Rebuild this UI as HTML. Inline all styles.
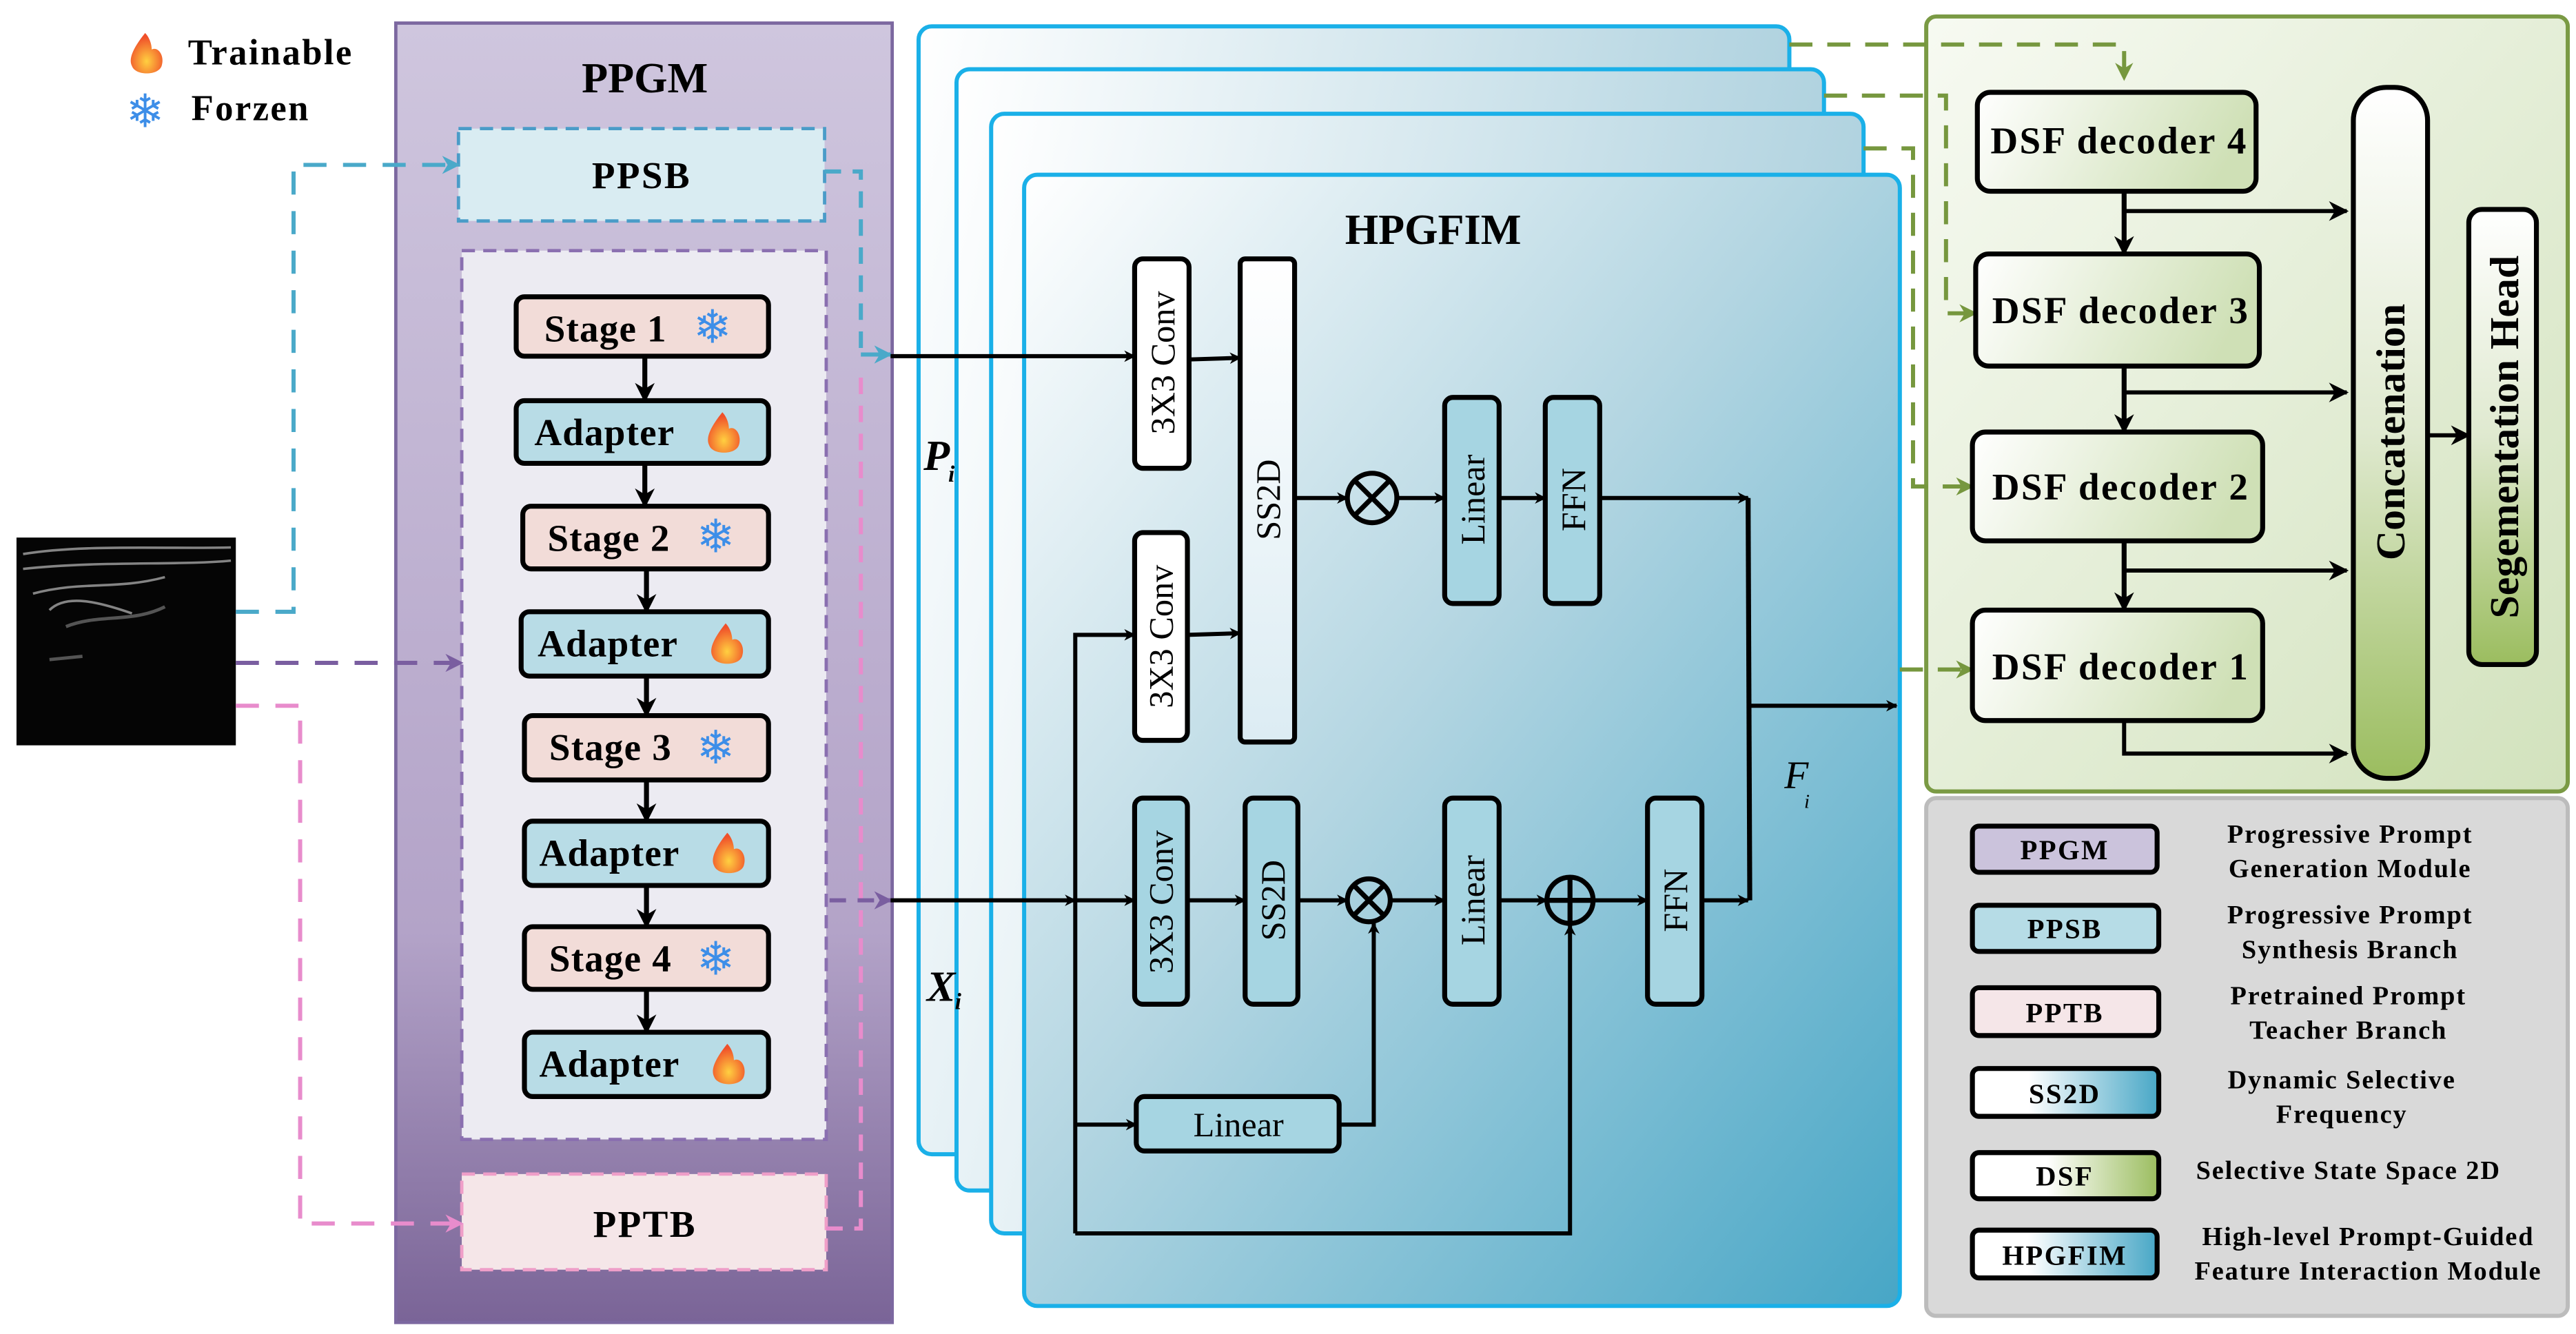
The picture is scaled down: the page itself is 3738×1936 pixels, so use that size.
<!DOCTYPE html>
<html><head><meta charset="utf-8"><style>
html,body{margin:0;padding:0;background:#fff}
svg{display:block}
</style></head><body>
<svg width="3738" height="1936" viewBox="0 0 1562 809" xmlns="http://www.w3.org/2000/svg" font-family="'Liberation Serif','DejaVu Serif',serif">
<defs>
<linearGradient id="gP" x1="0" y1="0" x2="0" y2="1"><stop offset="0" stop-color="#cfc6de"/><stop offset="0.7" stop-color="#b3a3c8"/><stop offset="1" stop-color="#7a6497"/></linearGradient>
<linearGradient id="gB" x1="0" y1="0" x2="1" y2="1"><stop offset="0" stop-color="#ffffff"/><stop offset="0.45" stop-color="#b4d6e2"/><stop offset="1" stop-color="#47a6c6"/></linearGradient>
<linearGradient id="gB2" x1="0" y1="0" x2="1" y2="0.3"><stop offset="0" stop-color="#ffffff"/><stop offset="1" stop-color="#aacfdd"/></linearGradient>
<linearGradient id="gG" x1="0" y1="0" x2="1" y2="1"><stop offset="0" stop-color="#f7faf2"/><stop offset="1" stop-color="#d2e2bd"/></linearGradient>
<linearGradient id="gD" x1="0" y1="0" x2="1" y2="0.2"><stop offset="0" stop-color="#ffffff"/><stop offset="1" stop-color="#cfe0b6"/></linearGradient>
<linearGradient id="gC" x1="0" y1="0" x2="0" y2="1"><stop offset="0" stop-color="#ffffff"/><stop offset="0.5" stop-color="#dfe9cf"/><stop offset="1" stop-color="#9bbd5f"/></linearGradient>
<linearGradient id="gS" x1="0" y1="0" x2="1" y2="0"><stop offset="0" stop-color="#ffffff"/><stop offset="0.3" stop-color="#ffffff"/><stop offset="1" stop-color="#48a7c6"/></linearGradient>
<linearGradient id="gDS" x1="0" y1="0" x2="1" y2="0"><stop offset="0" stop-color="#ffffff"/><stop offset="0.4" stop-color="#ffffff"/><stop offset="1" stop-color="#9bbd5f"/></linearGradient>
<linearGradient id="gSS" x1="0" y1="0" x2="0" y2="1"><stop offset="0" stop-color="#ffffff"/><stop offset="1" stop-color="#dcecf3"/></linearGradient>
<radialGradient id="gF" cx="0.5" cy="0.7" r="0.6"><stop offset="0" stop-color="#ffd040"/><stop offset="1" stop-color="#f0502a"/></radialGradient>
<marker id="a" viewBox="0 0 10 10" refX="9" refY="5" markerWidth="7" markerHeight="7" orient="auto" markerUnits="userSpaceOnUse"><path d="M0,0 L10,5 L0,10 L3,5z" fill="#000"/></marker>
<marker id="aL" viewBox="0 0 10 10" refX="9" refY="5" markerWidth="14" markerHeight="12" orient="auto" markerUnits="userSpaceOnUse"><path d="M0,0 L10,5 L0,10 L3,5z" fill="#000"/></marker>
<marker id="aC" viewBox="0 0 10 10" refX="9" refY="5" markerWidth="13" markerHeight="11" orient="auto" markerUnits="userSpaceOnUse"><path d="M0,0 L10,5 L0,10 L3,5z" fill="#4aa9c9"/></marker>
<marker id="aV" viewBox="0 0 10 10" refX="9" refY="5" markerWidth="13" markerHeight="11" orient="auto" markerUnits="userSpaceOnUse"><path d="M0,0 L10,5 L0,10 L3,5z" fill="#7a5ea0"/></marker>
<marker id="aK" viewBox="0 0 10 10" refX="9" refY="5" markerWidth="13" markerHeight="11" orient="auto" markerUnits="userSpaceOnUse"><path d="M0,0 L10,5 L0,10 L3,5z" fill="#e88ccc"/></marker>
<marker id="aG" viewBox="0 0 10 10" refX="9" refY="5" markerWidth="13" markerHeight="11" orient="auto" markerUnits="userSpaceOnUse"><path d="M0,0 L10,5 L0,10 L3,5z" fill="#76973e"/></marker>
</defs>

<!-- legend top -->
<path d="M88,20 C80,30 78,36 80,40 C82,46 96,46 98,40 C100,34 96,28 92,30 C92,26 90,22 88,20z" fill="url(#gF)"/>
<text x="114" y="39" font-size="22" font-weight="bold" letter-spacing="1">Trainable</text>
<text x="88" y="77" font-size="28" fill="#3d8ee8" text-anchor="middle" font-family="'DejaVu Sans',sans-serif">❄</text>
<text x="116" y="73" font-size="22" font-weight="bold" letter-spacing="1">Forzen</text>

<!-- ultrasound image -->
<rect x="10" y="326" width="133" height="126" fill="#050505"/>
<path d="M14,336 C50,330 100,333 140,332 M14,345 C60,340 110,343 140,340 M20,360 C50,352 70,358 100,350 M30,370 C40,360 60,365 80,372" stroke="#bbb" stroke-width="1.5" fill="none" opacity="0.7"/>
<path d="M40,380 C60,372 80,378 100,368 M30,400 L50,398" stroke="#888" stroke-width="2" fill="none" opacity="0.6"/>

<!-- PPGM -->
<rect x="240" y="14" width="301" height="788" fill="url(#gP)" stroke="#7c68a0" stroke-width="2"/>
<text x="391" y="56" font-size="26" font-weight="bold" text-anchor="middle">PPGM</text>
<rect x="278" y="78" width="222" height="56" fill="#d9ecf2" stroke="#4a9cc8" stroke-width="2" stroke-dasharray="8,5"/>
<text x="389" y="114" font-size="23" font-weight="bold" text-anchor="middle" letter-spacing="1">PPSB</text>
<rect x="280" y="152" width="221" height="539" fill="#ecebf2" stroke="#8a6fb0" stroke-width="2" stroke-dasharray="8,5"/>
<rect x="280" y="712" width="221" height="58" fill="#f5e6e8" stroke="#ef9ec8" stroke-width="2" stroke-dasharray="8,5"/>
<text x="391" y="750" font-size="23" font-weight="bold" text-anchor="middle" letter-spacing="1">PPTB</text>

<g stroke="#000" stroke-width="3">
<rect x="313" y="180" width="153" height="36" rx="5" fill="#f2dcd8"/>
<rect x="313" y="243" width="153" height="38" rx="5" fill="#b8dce6"/>
<rect x="317" y="307" width="149" height="38" rx="5" fill="#f2dcd8"/>
<rect x="316" y="371" width="150" height="39" rx="5" fill="#b8dce6"/>
<rect x="318" y="434" width="148" height="39" rx="5" fill="#f2dcd8"/>
<rect x="318" y="498" width="148" height="39" rx="5" fill="#b8dce6"/>
<rect x="318" y="562" width="148" height="38" rx="5" fill="#f2dcd8"/>
<rect x="318" y="626" width="148" height="39" rx="5" fill="#b8dce6"/>
</g>
<g stroke="#000" stroke-width="3" marker-end="url(#aL)">
<line x1="391" y1="216" x2="391" y2="243"/><line x1="391" y1="281" x2="391" y2="307"/>
<line x1="392" y1="345" x2="392" y2="371"/><line x1="392" y1="410" x2="392" y2="434"/>
<line x1="392" y1="473" x2="392" y2="498"/><line x1="392" y1="537" x2="392" y2="562"/>
<line x1="392" y1="600" x2="392" y2="626"/>
</g>
<g font-size="23" font-weight="bold" letter-spacing="0.5">
<text x="330" y="207">Stage 1</text><text x="324" y="270">Adapter</text>
<text x="332" y="334">Stage 2</text><text x="326" y="398">Adapter</text>
<text x="333" y="461">Stage 3</text><text x="327" y="525">Adapter</text>
<text x="333" y="589">Stage 4</text><text x="327" y="653">Adapter</text>
</g>
<g font-size="28" fill="#3d8ee8" text-anchor="middle" font-family="'DejaVu Sans',sans-serif">
<text x="432" y="208">❄</text><text x="434" y="335">❄</text><text x="434" y="463">❄</text><text x="434" y="591">❄</text>
</g>
<g fill="url(#gF)">
<path d="M438,250 C430,260 428,266 430,270 C432,276 446,276 448,270 C450,264 446,258 442,260 C442,256 440,252 438,250z"/>
<path d="M440,378 C432,388 430,394 432,398 C434,404 448,404 450,398 C452,392 448,386 444,388 C444,384 442,380 440,378z"/>
<path d="M441,505 C433,515 431,521 433,525 C435,531 449,531 451,525 C453,519 449,513 445,515 C445,511 443,507 441,505z"/>
<path d="M441,633 C433,643 431,649 433,653 C435,659 449,659 451,653 C453,647 449,641 445,643 C445,639 443,635 441,633z"/>
</g>

<!-- dashed inputs -->
<path d="M143,371 L178,371 L178,100 L278,100" fill="none" stroke="#4aa9c9" stroke-width="2.5" stroke-dasharray="14,10" marker-end="url(#aC)"/>
<path d="M143,402 L280,402" fill="none" stroke="#7a5ea0" stroke-width="2.5" stroke-dasharray="14,10" marker-end="url(#aV)"/>
<path d="M143,428 L182,428 L182,742 L280,742" fill="none" stroke="#e88ccc" stroke-width="2.5" stroke-dasharray="14,10" marker-end="url(#aK)"/>
<path d="M500,104 L522,104 L522,215" fill="none" stroke="#4aa9c9" stroke-width="2.5" stroke-dasharray="10,7"/>
<path d="M522,215 L540,215" fill="none" stroke="#4aa9c9" stroke-width="2.5" marker-end="url(#aC)"/>
<path d="M501,745 L522,745 L522,225" fill="none" stroke="#e88ccc" stroke-width="2.5" stroke-dasharray="10,7"/>
<path d="M503,546 L540,546" fill="none" stroke="#7a5ea0" stroke-width="2.5" stroke-dasharray="10,7" marker-end="url(#aV)"/>

<!-- HPGFIM stacks -->
<g stroke="#1ab0e8" stroke-width="2.5">
<rect x="557" y="16" width="528" height="684" rx="8" fill="url(#gB2)"/>
<rect x="580" y="42" width="526" height="680" rx="8" fill="url(#gB2)"/>
<rect x="601" y="69" width="529" height="679" rx="8" fill="url(#gB2)"/>
<rect x="621" y="106" width="531" height="686" rx="8" fill="url(#gB)"/>
</g>
<text x="560" y="285" font-size="26" font-weight="bold" font-style="italic">P</text><text x="575" y="292" font-size="14" font-style="italic" font-weight="bold">i</text>
<text x="562" y="607" font-size="26" font-weight="bold" font-style="italic">X</text><text x="579" y="612" font-size="14" font-style="italic" font-weight="bold">i</text>
<text x="869" y="148" font-size="26" font-weight="bold" text-anchor="middle">HPGFIM</text>

<g stroke="#000" stroke-width="3">
<rect x="688" y="157" width="33" height="127" rx="5" fill="#ffffff"/>
<rect x="752" y="157" width="33" height="293" rx="3" fill="url(#gSS)"/>
<rect x="688" y="323" width="32" height="126" rx="5" fill="#ffffff"/>
<rect x="876" y="241" width="33" height="125" rx="5" fill="#a6d5e2"/>
<rect x="937" y="241" width="33" height="125" rx="5" fill="#a6d5e2"/>
<rect x="688" y="484" width="32" height="125" rx="5" fill="#a6d5e2"/>
<rect x="755" y="484" width="32" height="125" rx="5" fill="#a6d5e2"/>
<rect x="876" y="484" width="33" height="125" rx="5" fill="#a6d5e2"/>
<rect x="999" y="484" width="33" height="125" rx="5" fill="#a6d5e2"/>
<rect x="689" y="665" width="123" height="33" rx="5" fill="#a6d5e2"/>
<circle cx="832" cy="302" r="15" fill="none"/>
<path d="M821,291 L843,313 M843,291 L821,313" fill="none"/>
<circle cx="830" cy="546" r="13" fill="none"/>
<path d="M821,537 L839,555 M839,537 L821,555" fill="none"/>
<circle cx="952" cy="546" r="14" fill="none"/>
<path d="M938,546 L966,546 M952,532 L952,560" fill="none"/>
</g>
<g font-size="21" text-anchor="middle">
<text transform="translate(712,220) rotate(-90)">3X3 Conv</text>
<text transform="translate(711,386) rotate(-90)">3X3 Conv</text>
<text transform="translate(711,547) rotate(-90)">3X3 Conv</text>
<text transform="translate(776,303) rotate(-90)">SS2D</text>
<text transform="translate(779,546) rotate(-90)">SS2D</text>
<text transform="translate(900,303) rotate(-90)">Linear</text>
<text transform="translate(900,546) rotate(-90)">Linear</text>
<text transform="translate(961,303) rotate(-90)">FFN</text>
<text transform="translate(1023,546) rotate(-90)">FFN</text>
<text x="751" y="689">Linear</text>
</g>
<g stroke="#000" stroke-width="2.5" fill="none" marker-end="url(#a)">
<line x1="540" y1="216" x2="688" y2="216"/>
<line x1="721" y1="218" x2="752" y2="217"/>
<line x1="720" y1="385" x2="752" y2="384"/>
<line x1="785" y1="302" x2="817" y2="302"/>
<line x1="847" y1="302" x2="876" y2="302"/>
<line x1="909" y1="302" x2="937" y2="302"/>
<line x1="970" y1="302" x2="1060" y2="302"/>
<line x1="540" y1="546" x2="652" y2="546"/>
<line x1="652" y1="546" x2="688" y2="546"/>
<line x1="720" y1="546" x2="755" y2="546"/>
<line x1="787" y1="546" x2="817" y2="546"/>
<line x1="843" y1="546" x2="876" y2="546"/>
<line x1="909" y1="546" x2="938" y2="546"/>
<line x1="966" y1="546" x2="999" y2="546"/>
<line x1="1032" y1="546" x2="1060" y2="546"/>
<path d="M652,748 L652,385 L688,385"/>
<line x1="652" y1="682" x2="689" y2="682"/>
<path d="M812,682 L833,682 L833,560"/>
<path d="M652,748 L952,748 L952,561"/>
<line x1="1060" y1="428" x2="1150" y2="428"/>
</g>
<line x1="1060" y1="302" x2="1061" y2="546" stroke="#000" stroke-width="3"/>
<text x="1082" y="478" font-size="24" font-style="italic">F</text><text x="1094" y="490" font-size="12" font-style="italic">i</text>

<!-- green panel -->
<rect x="1168" y="10" width="389" height="470" rx="6" fill="url(#gG)" stroke="#7a9a44" stroke-width="2.5"/>
<g stroke="#76973e" stroke-width="2.5" fill="none" stroke-dasharray="14,9">
<path d="M1085,27 L1288,27 L1288,48" marker-end="url(#aG)"/>
<path d="M1106,58 L1180,58 L1180,190 L1198,190" marker-end="url(#aG)"/>
<path d="M1130,90 L1160,90 L1160,295 L1196,295" marker-end="url(#aG)"/>
<path d="M1152,406 L1196,406" marker-end="url(#aG)"/>
</g>
<g stroke="#000" stroke-width="3">
<rect x="1199" y="56" width="169" height="60" rx="8" fill="url(#gD)"/>
<rect x="1198" y="154" width="172" height="68" rx="8" fill="url(#gD)"/>
<rect x="1196" y="262" width="176" height="66" rx="8" fill="url(#gD)"/>
<rect x="1196" y="370" width="176" height="67" rx="8" fill="url(#gD)"/>
<rect x="1427" y="53" width="45" height="419" rx="20" fill="url(#gC)"/>
<rect x="1497" y="127" width="41" height="276" rx="8" fill="url(#gC)"/>
</g>
<g font-size="23" font-weight="bold" text-anchor="middle" letter-spacing="1">
<text x="1285" y="93">DSF decoder 4</text>
<text x="1286" y="196">DSF decoder 3</text>
<text x="1286" y="303">DSF decoder 2</text>
<text x="1286" y="412">DSF decoder 1</text>
</g>
<text transform="translate(1458,262) rotate(-90)" font-size="25" font-weight="bold" text-anchor="middle">Concatenation</text>
<text transform="translate(1527,265) rotate(-90)" font-size="25" font-weight="bold" text-anchor="middle">Segementation Head</text>
<g stroke="#000" stroke-width="3" fill="none">
<line x1="1288" y1="116" x2="1288" y2="154" marker-end="url(#aL)"/>
<line x1="1288" y1="222" x2="1288" y2="262" marker-end="url(#aL)"/>
<line x1="1288" y1="328" x2="1288" y2="370" marker-end="url(#aL)"/>
</g>
<g stroke="#000" stroke-width="2.5" fill="none" marker-end="url(#aL)">
<line x1="1288" y1="128" x2="1423" y2="128"/>
<line x1="1288" y1="238" x2="1423" y2="238"/>
<line x1="1288" y1="346" x2="1423" y2="346"/>
<path d="M1288,437 L1288,457 L1423,457"/>
<line x1="1472" y1="264" x2="1497" y2="264"/>
</g>

<!-- legend panel -->
<rect x="1168" y="484" width="389" height="314" rx="6" fill="#d9d9d9" stroke="#bcbcbc" stroke-width="2.5"/>
<g stroke="#000" stroke-width="3">
<rect x="1196" y="501" width="112" height="28" rx="4" fill="#cbc3dc"/>
<rect x="1196" y="549" width="113" height="28" rx="4" fill="#b6dce6"/>
<rect x="1196" y="599" width="113" height="29" rx="4" fill="#f5e6e8"/>
<rect x="1196" y="648" width="113" height="29" rx="4" fill="url(#gS)"/>
<rect x="1196" y="699" width="113" height="28" rx="4" fill="url(#gDS)"/>
<rect x="1196" y="746" width="112" height="29" rx="4" fill="url(#gS)"/>
</g>
<g font-size="17" font-weight="bold" text-anchor="middle" letter-spacing="1">
<text x="1252" y="521">PPGM</text><text x="1252" y="569">PPSB</text><text x="1252" y="620">PPTB</text>
<text x="1252" y="669">SS2D</text><text x="1252" y="719">DSF</text><text x="1252" y="767">HPGFIM</text>
</g>
<g font-size="16" font-weight="bold" text-anchor="middle" letter-spacing="0.8">
<text x="1425" y="511">Progressive Prompt</text><text x="1425" y="532">Generation Module</text>
<text x="1425" y="560">Progressive Prompt</text><text x="1425" y="581">Synthesis Branch</text>
<text x="1424" y="609">Pretrained Prompt</text><text x="1424" y="630">Teacher Branch</text>
<text x="1420" y="660">Dynamic Selective</text><text x="1420" y="681">Frequency</text>
<text x="1424" y="715">Selective State Space 2D</text>
<text x="1436" y="755">High-level Prompt-Guided</text><text x="1436" y="776">Feature Interaction Module</text>
</g>
</svg>
</body></html>
